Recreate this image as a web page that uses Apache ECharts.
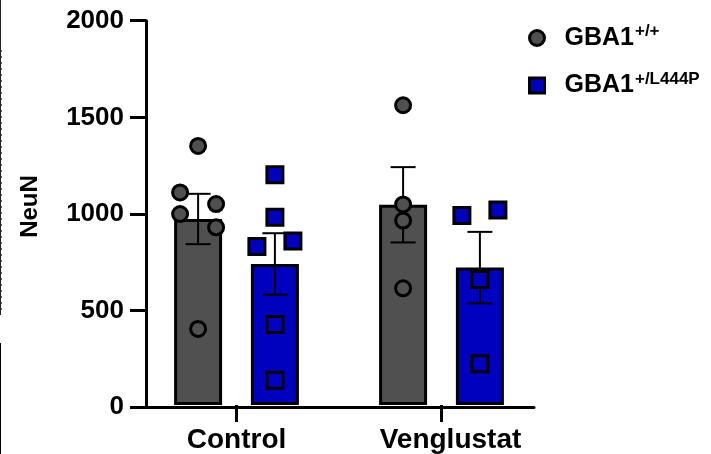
<!DOCTYPE html>
<html>
<head>
<meta charset="utf-8">
<script src="https://cdn.jsdelivr.net/npm/echarts@6/dist/echarts.min.js"></script>
<style>html,body{margin:0;padding:0;background:#fff}#c{width:711px;height:454px}</style>
</head>
<body>
<div id="c"></div>
<script>
// ---------- DATA ----------
const categories = ['Control', 'Venglustat'];
const genotypeBase = 'GBA1';
const genotypeSup = ['+/+', '+/L444P'];
const yTicks = [0, 500, 1000, 1500, 2000];
const meanWT  = [968, 1042];
const meanMut = [734, 715];
const semWT   = [131, 196];
const semMut  = [160, 186];
const pointsWTControl  = [1348, 1106, 1046, 994, 925, 396];
const pointsMutControl = [1198, 977, 825, 853, 419, 129];
const pointsWTVeng     = [1560, 1044, 960, 607];
const pointsMutVeng    = [986, 1015, 653, 215];

// ---------- LAYOUT / STYLE ----------
const FONT = '"Liberation Sans", Arial, Helvetica, sans-serif';
const GRAY = '#505050', BLUE = '#0000bf';
const W = 711;
const gridTop = 20.7, gridBottom = 46.7;
const plotLeft = 134, plotRight = 167;
const bandPx = (W - plotLeft - plotRight) / categories.length;
const barW = 48, barGapRatio = 0.6;
const seriesShiftPx = barW * (1 + barGapRatio) / 2;
// horizontal scatter spread of the dots (pixels) like the original figure
const jitterPx = {
  wt:  [[0, -18, 18, -18, 18, 0], [0, 0, 0, 0]],
  mut: [[0, 0, -18, 18, 0, 0], [-18, 18, 0, 0]]
};
const labelPadLeft = [0, 18];
const wtPts = [pointsWTControl, pointsWTVeng];
const mutPts = [pointsMutControl, pointsMutVeng];
const names = genotypeSup.map(s => genotypeBase + s);

function scatterData(groups, jit, sign) {
  const out = [];
  groups.forEach((arr, gi) => arr.forEach((v, i) => {
    out.push([gi + (sign * seriesShiftPx + jit[gi][i]) / bandPx, v]);
  }));
  return out;
}
function errData(means, sems, sign) {
  return means.map((m, gi) => [gi + sign * seriesShiftPx / bandPx, m - sems[gi], m + sems[gi]]);
}
function errRender(params, api) {
  const x = api.value(0), lo = api.value(1), hi = api.value(2);
  const pH = api.coord([x, hi]), pL = api.coord([x, lo]);
  const cap = 12.5;
  const st = {stroke: '#000', lineWidth: 2};
  return {type: 'group', children: [
    {type: 'line', shape: {x1: pH[0], y1: pH[1], x2: pL[0], y2: pL[1]}, style: st},
    {type: 'line', shape: {x1: pH[0] - cap, y1: pH[1], x2: pH[0] + cap, y2: pH[1]}, style: st},
    {type: 'line', shape: {x1: pL[0] - cap, y1: pL[1], x2: pL[0] + cap, y2: pL[1]}, style: st}
  ]};
}

const chart = echarts.init(document.getElementById('c'), null, {renderer: 'canvas'});
chart.setOption({
  animation: false,
  backgroundColor: '#fff',
  textStyle: {fontFamily: FONT},
  grid: [
    {left: 146, right: 177, top: gridTop, bottom: gridBottom},
    {left: plotLeft, right: plotRight, top: gridTop, bottom: gridBottom}
  ],
  xAxis: [
    {gridIndex: 0, type: 'value', min: 0, max: 1,
     axisLine: {show: true, lineStyle: {color: '#000', width: 3}},
     axisTick: {show: false}, axisLabel: {show: false}, splitLine: {show: false}},
    {gridIndex: 1, type: 'category',
     data: categories.map((c, i) => ({value: c, textStyle: {padding: [0, 0, 0, labelPadLeft[i]]}})),
     axisLine: {show: false},
     axisTick: {show: true, inside: false, alignWithLabel: true, length: 17, lineStyle: {color: '#000', width: 3}},
     axisLabel: {color: '#000', fontSize: 28, fontWeight: 'bold', fontFamily: FONT, margin: 21},
     splitLine: {show: false}},
    {gridIndex: 1, type: 'value', min: -0.5, max: 1.5, show: false}
  ],
  yAxis: [
    {gridIndex: 0, type: 'value', min: yTicks[0], max: yTicks[yTicks.length - 1], interval: yTicks[1] - yTicks[0],
     name: 'NeuN', nameLocation: 'middle', nameGap: 104, nameRotate: 90,
     nameTextStyle: {color: '#000', fontSize: 24, fontWeight: 'bold', fontFamily: FONT, padding: [0, 0, 0, 15]},
     axisLine: {show: true, lineStyle: {color: '#000', width: 3}},
     axisTick: {show: true, inside: false, length: 16, lineStyle: {color: '#000', width: 3}},
     axisLabel: {color: '#000', fontSize: 26, fontWeight: 'bold', fontFamily: FONT, margin: 22,
                 formatter: v => String(v)},
     splitLine: {show: false}},
    {gridIndex: 1, type: 'value', min: yTicks[0], max: yTicks[yTicks.length - 1], show: false}
  ],
  legend: {
    orient: 'vertical', left: 523, top: 18, itemGap: 20, padding: 5,
    itemWidth: 15, itemHeight: 15,
    data: [
      {name: names[0], icon: 'circle', itemStyle: {color: GRAY, borderColor: '#000', borderWidth: 3}},
      {name: names[1], icon: 'rect', itemStyle: {color: BLUE, borderColor: '#000', borderWidth: 3}}
    ],
    formatter: function (n) {
      const i = names.indexOf(n);
      return '{b|' + genotypeBase + '}{s|' + genotypeSup[i] + '}';
    },
    textStyle: {
      rich: {
        b: {fontSize: 25, fontWeight: 'bold', color: '#000', fontFamily: FONT, lineHeight: 30, padding: [0, 1, 0, 15]},
        s: {fontSize: 17, fontWeight: 'bold', color: '#000', fontFamily: FONT, lineHeight: 17, verticalAlign: 'top'}
      }
    },
    selectedMode: false
  },
  graphic: [
    {type: 'line', shape: {x1: 0.5, y1: 0, x2: 0.5, y2: 315}, style: {stroke: '#222', lineWidth: 1}},
    {type: 'line', shape: {x1: 1.5, y1: 50, x2: 1.5, y2: 310}, style: {stroke: '#ff00ff', lineWidth: 1, lineDash: [2, 4]}},
    {type: 'line', shape: {x1: 0.5, y1: 343, x2: 0.5, y2: 454}, style: {stroke: '#000', lineWidth: 1}}
  ],
  series: [
    {name: names[0], type: 'bar', xAxisIndex: 1, yAxisIndex: 1, data: meanWT,
     barWidth: barW, barGap: (barGapRatio * 100) + '%',
     itemStyle: {color: GRAY, borderColor: '#000', borderWidth: 3}, silent: true, z: 2},
    {name: names[1], type: 'bar', xAxisIndex: 1, yAxisIndex: 1, data: meanMut,
     barWidth: barW,
     itemStyle: {color: BLUE, borderColor: '#000', borderWidth: 3}, silent: true, z: 2},
    {name: names[0], type: 'custom', xAxisIndex: 2, yAxisIndex: 1, data: errData(meanWT, semWT, -1),
     renderItem: errRender, z: 3, silent: true},
    {name: names[1], type: 'custom', xAxisIndex: 2, yAxisIndex: 1, data: errData(meanMut, semMut, 1),
     renderItem: errRender, z: 3, silent: true},
    {name: names[0], type: 'scatter', xAxisIndex: 2, yAxisIndex: 1, data: scatterData(wtPts, jitterPx.wt, -1),
     symbol: 'circle', symbolSize: 15,
     itemStyle: {color: GRAY, borderColor: '#000', borderWidth: 3, opacity: 1}, z: 5, silent: true},
    {name: names[1], type: 'scatter', xAxisIndex: 2, yAxisIndex: 1, data: scatterData(mutPts, jitterPx.mut, 1),
     symbol: 'rect', symbolSize: 16,
     itemStyle: {color: BLUE, borderColor: '#000', borderWidth: 3, opacity: 1}, z: 5, silent: true}
  ]
});
</script>
</body>
</html>
